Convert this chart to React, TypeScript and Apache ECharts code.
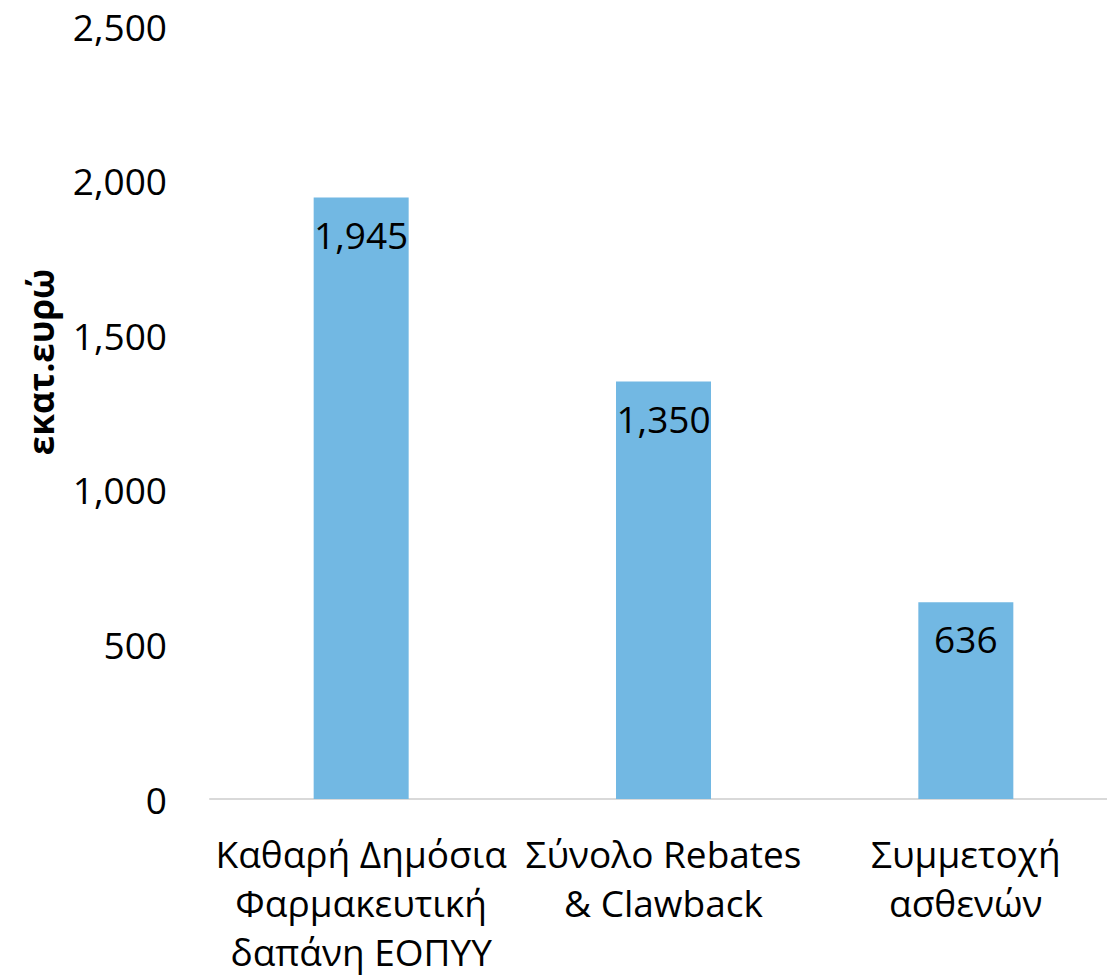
import React, { useEffect, useRef } from "react";
import * as echarts from "echarts";

const categories = [
  "Καθαρή Δημόσια\nΦαρμακευτική\nδαπάνη ΕΟΠΥΥ",
  "Σύνολο Rebates\n& Clawback",
  "Συμμετοχή\nασθενών",
];
const values = [1945, 1350, 636];
const yTicks = { min: 0, max: 2500, interval: 500 };
const yTitle = "εκατ.ευρώ";

const FONT = "'Open Sans', 'Noto Sans', sans-serif";

export default function App() {
  const ref = useRef<HTMLDivElement>(null);
  useEffect(() => {
    document.body.style.margin = "0";
    if (!ref.current) return;
    const chart = echarts.init(ref.current, null, { renderer: "svg" });
    const fmt = (v: number) => v.toLocaleString("en-US");
    chart.setOption({
      animation: false,
      grid: {
        left: 210,
        top: 26,
        width: 907,
        height: 773,
        outerBoundsMode: "none",
        containLabel: false,
      },
      xAxis: {
        type: "category",
        data: categories,
        axisLine: { show: true, lineStyle: { color: "#d9d9d9", width: 2 } },
        axisTick: { show: false },
        axisLabel: {
          color: "#000",
          fontFamily: FONT,
          fontSize: 37,
          lineHeight: 49,
          margin: 30,
          interval: 0,
        },
      },
      yAxis: {
        type: "value",
        min: yTicks.min,
        max: yTicks.max,
        interval: yTicks.interval,
        axisLine: { show: false },
        axisTick: { show: false },
        splitLine: { show: false },
        axisLabel: {
          color: "#000",
          fontFamily: FONT,
          fontSize: 37,
          margin: 43,
          formatter: (v: number) => fmt(v),
        },
      },
      graphic: [
        {
          type: "text",
          x: 40,
          y: 362,
          rotation: Math.PI / 2,
          style: {
            text: yTitle,
            fontFamily: FONT,
            fontSize: 35,
            fontWeight: "bold",
            fill: "#000",
            textAlign: "center",
            textVerticalAlign: "middle",
          },
        },
      ],
      series: [
        {
          type: "bar",
          data: values,
          barWidth: 95,
          itemStyle: { color: "#72b8e3" },
          label: {
            show: true,
            position: "insideTop",
            distance: 18,
            color: "#000",
            fontFamily: FONT,
            fontSize: 37,
            formatter: (p: any) => fmt(p.value),
          },
        },
      ],
    });
    return () => chart.dispose();
  }, []);
  return <div ref={ref} style={{ width: 1107, height: 979 }} />;
}
